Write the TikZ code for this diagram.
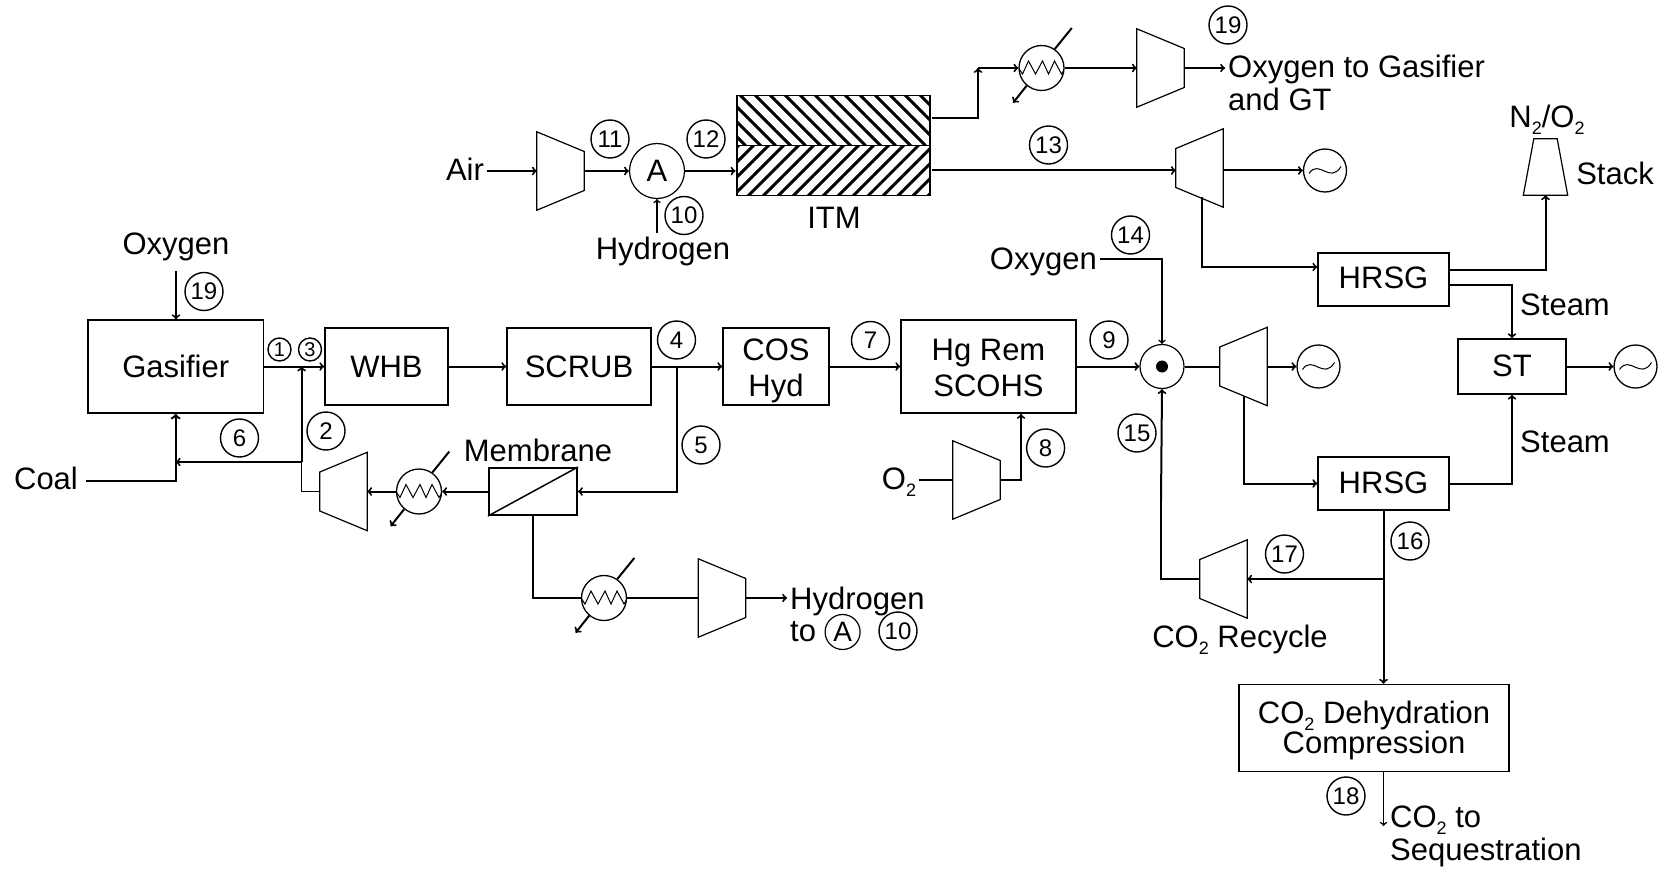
\documentclass[tikz,border=0pt]{standalone}
\usepackage{fontspec}
\setmainfont{Liberation Sans}
\usetikzlibrary{shapes,patterns.meta}
\newcommand{\subtwo}{\smash{\raisebox{-7pt}{\fontsize{18}{18}\selectfont 2}}}
\tikzset{
  txt/.style={inner sep=3pt,font=\fontsize{31}{33}\selectfont},
  tag/.style={circle,draw,line width=1.4pt,inner sep=0pt,minimum size=38pt,font=\fontsize{24}{24}\selectfont},
  tagsmall/.style={tag,minimum size=23pt,font=\fontsize{20}{20}\selectfont},
  unit/.style={draw,line width=1.5pt,inner sep=0pt,align=center,font=\fontsize{31}{36}\selectfont},
  flow/.style={->,line width=2pt},
  flowthin/.style={->,line width=1.6pt},
  pipe/.style={line width=2pt},
  pipethin/.style={line width=1.5pt},
  compr/.style={inner sep=0pt,minimum width=47pt,minimum height=78pt,append after command={\pgfextra{
    \draw[line width=1.2pt] (\tikzlastnode.north west) -- ([yshift=19.5pt]\tikzlastnode.east) -- ([yshift=-19.5pt]\tikzlastnode.east) -- (\tikzlastnode.south west) -- cycle;}}},
  turb/.style={inner sep=0pt,minimum width=47pt,minimum height=78pt,append after command={\pgfextra{
    \draw[line width=1.2pt] (\tikzlastnode.north east) -- ([yshift=19.5pt]\tikzlastnode.west) -- ([yshift=-19.5pt]\tikzlastnode.west) -- (\tikzlastnode.south east) -- cycle;}}},
  stackshape/.style={inner sep=0pt,minimum width=44pt,minimum height=56pt,append after command={\pgfextra{
    \draw[line width=1.2pt] (\tikzlastnode.south west) -- ([xshift=10.5pt]\tikzlastnode.north west) -- ([xshift=-10.5pt]\tikzlastnode.north east) -- (\tikzlastnode.south east) -- cycle;}}},
  hx/.style={circle,draw,line width=1.3pt,inner sep=0pt,minimum size=45pt,path picture={
    \draw[line width=1pt,shift={(path picture bounding box.center)}] (-23,0) -- (-19,6) -- (-13,-7) -- (-6,6) -- (1,-7) -- (7,6) -- (13,-7) -- (20,6) -- (24,0);}},
  gen/.style={circle,draw,line width=1.3pt,inner sep=0pt,minimum size=43pt,path picture={
    \draw[line width=1pt,shift={(path picture bounding box.center)}] (-16,3) .. controls (-6,-12) and (5,14) .. (16,-4);}},
  itmpart/.style={draw,line width=1.6pt,inner sep=0pt,minimum width=193pt,minimum height=50pt},
}

\begin{document}
\begin{tikzpicture}[x=1pt,y=-1pt]
  \useasboundingbox (0,0) rectangle (1675,869);

  % air side and ITM
  \node[txt] (air) at (465,169) {Air};
  \node[compr] (aircomp) at (560.5,171) {};
  \node[circle,draw,line width=1.2pt,inner sep=0pt,minimum size=55pt,font=\fontsize{31}{36}\selectfont] (mixa) at (657,171) {A};
  \node[txt] (hydin) at (663,251) {Hydrogen};
  \node[itmpart,pattern={Lines[angle=-45,distance=10.6pt,line width=3pt]}] (itmtop) at (833.5,120.5) {};
  \node[itmpart,pattern={Lines[angle=45,distance=10.6pt,line width=3pt]}] (itmbot) at (833.5,170.5) {};
  \node[txt] (itm) at (834,218) {ITM};
  \node[tag] (t11) at (610,139) {11};
  \node[tag] (t12) at (706,139) {12};
  \node[tag] (t10a) at (684,215.5) {10};
  \draw[flow] (air.east |- aircomp.west) -- (aircomp.west);
  \draw[flow] (aircomp.east) -- (mixa);
  \draw[flowthin] (mixa.south |- hydin.north) -- (mixa.south);
  \draw[flow] (mixa) -- (mixa -| itmbot.west);

  % oxygen train
  \coordinate (itmup) at (978,68);
  \node[hx] (hxa) at (1041.5,68) {};
  \node[compr] (oxcomp) at (1160.5,68) {};
  \node[txt,anchor=west,align=left] (oxout) at (1225,83) {Oxygen to Gasifier\\and GT};
  \node[tag] (t19a) at (1228,25) {19};
  \draw[flow] ([yshift=2.5pt]itmtop.east) -| (itmup);
  \draw[flow] (itmup) -- (hxa);
  \draw[flow] (hxa) -- (oxcomp.west);
  \draw[flow] (oxcomp.east) -- (oxcomp.east -| oxout.west);
  \draw[pipe] (hxa.55) -- +(17,-21);
  \draw[flow] (hxa.230) -- +(-13.5,17);

  % hot turbine and upper HRSG
  \node[turb] (hotturb) at (1199.5,168) {};
  \node[gen] (gena) at (1325,170.5) {};
  \node[tag] (t13) at (1048.5,145) {13};
  \node[unit,minimum width=131pt,minimum height=53pt,text depth=4pt] (hrsga) at (1383.5,279.5) {HRSG};
  \node[stackshape] (stack) at (1545.5,167) {};
  \node[txt] (n2o2) at (1547,116) {N\subtwo/O\subtwo};
  \node[txt] (stacktxt) at (1615,173) {Stack};
  \draw[flow] (itmbot.east) -- (itmbot.east -| hotturb.west);
  \draw[flow] (gena -| hotturb.east) -- (gena);
  \draw[flow] ([xshift=2.5pt,yshift=10pt]hotturb.south) |- ([yshift=12.5pt]hrsga.west);
  \draw[flow] ([yshift=9.5pt]hrsga.east) -| (stack.south);

  % gasifier train
  \node[txt] (oxgas) at (176,247) {Oxygen};
  \node[tag] (t19b) at (204,291.5) {19};
  \node[unit,minimum width=175.5pt,minimum height=93pt] (gasifier) at (175.7,366.5) {Gasifier};
  \node[txt] (coal) at (46,478) {Coal};
  \node[unit,minimum width=123pt,minimum height=77pt] (whb) at (386.5,366.5) {WHB};
  \node[unit,minimum width=144pt,minimum height=77pt] (scrub) at (579,366.5) {SCRUB};
  \node[unit,minimum width=106pt,minimum height=77pt] (cos) at (776,366.5) {\rule{0pt}{30pt}COS\\Hyd};
  \node[unit,minimum width=175pt,minimum height=93pt] (hgrem) at (988.5,366.5) {\rule{0pt}{24pt}Hg Rem\\SCOHS};
  \node[tagsmall] (t1) at (279.5,349.5) {1};
  \node[tagsmall] (t3) at (310,349.5) {3};
  \node[tag] (t4) at (676.5,340) {4};
  \node[tag] (t7) at (870.5,340.5) {7};
  \node[tag] (t6) at (239.5,438) {6};
  \node[tag] (t2) at (326,431) {2};
  \node[tag] (t5) at (701,445) {5};
  \coordinate (join3) at (301.6,366.5);
  \coordinate (join6) at (301.6,462);
  \coordinate (join4) at (677,366.5);
  \draw[flow] ([yshift=-7pt]oxgas.south) -- (gasifier.north -| oxgas);
  \draw[flow] (gasifier) -- (whb);
  \draw[flow] (whb) -- (scrub);
  \draw[flow] (scrub) -- (cos);
  \draw[flow] (cos) -- (hgrem);
  \draw[flow,line width=2.4pt] ([shift={(5pt,-3pt)}]coal.east) -| (gasifier.south);

  % membrane loop
  \node[unit,line width=2pt,minimum width=88pt,minimum height=47pt] (memb) at (533,491.5) {};
  \node[txt] (membtxt) at (538,450) {Membrane};
  \node[hx] (hxb) at (419,491.5) {};
  \node[turb] (recomp) at (343.5,491.5) {};
  \draw[line width=1.5pt] (memb.south west) -- (memb.north east);
  \draw[flow] (join4) |- (memb.east);
  \draw[flow] (memb.west) -- (hxb);
  \draw[flow] (hxb) -- (recomp.east);
  \draw[pipethin] (recomp.west) -| (join6);
  \draw[flow] (join6) -- (join3);
  \draw[flow] (join6) -- (join6 -| gasifier);
  \draw[pipe] (hxb.55) -- +(17,-21);
  \draw[flow] (hxb.230) -- +(-13.5,17);

  % hydrogen product
  \node[hx] (hxc) at (604,598) {};
  \node[compr] (hycomp) at (722,598) {};
  \node[txt,anchor=west] (hydout) at (787,601) {Hydrogen};
  \node[txt,anchor=west] (totxt) at (787,632) {to};
  \node[circle,draw,line width=1.2pt,inner sep=0pt,minimum size=35pt,font=\fontsize{28}{28}\selectfont] (refa) at (842.6,632) {A};
  \node[tag] (t10b) at (898,631) {10};
  \draw[pipethin] (memb.south) |- (hxc);
  \draw[pipe] (hxc) -- (hycomp.west);
  \draw[flow] (hycomp.east) -- (hycomp.east -| hydout.west);
  \draw[pipe] (hxc.55) -- +(17,-21);
  \draw[flow] (hxc.230) -- +(-13.5,17);

  % oxygen to the Hg step
  \node[txt] (oxtwo) at (899,479) {O\subtwo};
  \node[compr] (o2comp) at (976.5,480) {};
  \node[tag] (t8) at (1045.6,448) {8};
  \coordinate (o2up) at (1021,414);
  \draw[pipethin] (oxtwo.east |- o2comp.west) -- (o2comp.west);
  \draw[flow] (o2comp.east) -| (o2up);

  % gas turbine
  \node[circle,draw,line width=1.2pt,inner sep=0pt,minimum size=44pt] (mixb) at (1162,366.5) {};
  \node[circle,fill,inner sep=0pt,minimum size=12pt] (mixdot) at (mixb) {};
  \node[txt,anchor=east] (oxcc) at (1100,262) {Oxygen};
  \node[tag] (t14) at (1130.5,235) {14};
  \node[tag] (t9) at (1109,340) {9};
  \node[tag] (t15) at (1137,433) {15};
  \node[turb] (gasturb) at (1243.5,366.5) {};
  \node[gen] (genb) at (1318.5,366.5) {};
  \node[unit,minimum width=131pt,minimum height=53pt,text depth=2pt] (hrsgb) at (1383.5,483.5) {HRSG};
  \node[unit,minimum width=108pt,minimum height=55pt,text depth=1pt] (st) at (1512,366.5) {ST};
  \node[gen] (genc) at (1635.5,366.5) {};
  \node[txt] (steama) at (1565,305) {Steam};
  \node[txt] (steamb) at (1565,442) {Steam};
  \draw[flow] (hgrem) -- (mixb);
  \draw[flowthin] ([yshift=3pt]oxcc.east) -| (mixb.north);
  \draw[pipe] (mixb) -- (gasturb.west);
  \draw[flow] (gasturb.east) -- (genb);
  \draw[flow] ([yshift=10pt]gasturb.south) |- (hrsgb.west);
  \draw[flow] (st) -- (genc);
  \draw[flow] ([yshift=-5.5pt]hrsga.east) -| (st.north);
  \draw[flow] (hrsgb.east) -| (st.south);

  % CO2 recycle and dehydration
  \node[turb] (co2comp) at (1223.5,579) {};
  \node[txt] (co2txt) at (1240,639) {CO\subtwo\ Recycle};
  \node[tag] (t16) at (1410,541) {16};
  \node[tag] (t17) at (1284.5,554) {17};
  \node[tag] (t18) at (1346,796) {18};
  \node[unit,minimum width=270pt,minimum height=87pt,font=\fontsize{31}{30}\selectfont] (dehyd) at (1374,728) {\rule{0pt}{28pt}CO\subtwo\ Dehydration\\Compression};
  \node[txt,anchor=west,align=left] (seq) at (1387,836) {CO\subtwo\ to\\Sequestration};
  \coordinate (join16) at (1383.5,579);
  \coordinate (seqend) at (1383.5,826);
  \coordinate (recup) at (1161,500);
  \draw[flow] (hrsgb.south) -- (dehyd.north -| hrsgb.south);
  \draw[flow] (join16) -- (co2comp.east);
  \draw[pipethin] (co2comp.west) -| (recup);
  \draw[flow] (recup) -- (mixb.south);
  \draw[flowthin] (dehyd.south -| seqend) -- (seqend);
\end{tikzpicture}
\end{document}
